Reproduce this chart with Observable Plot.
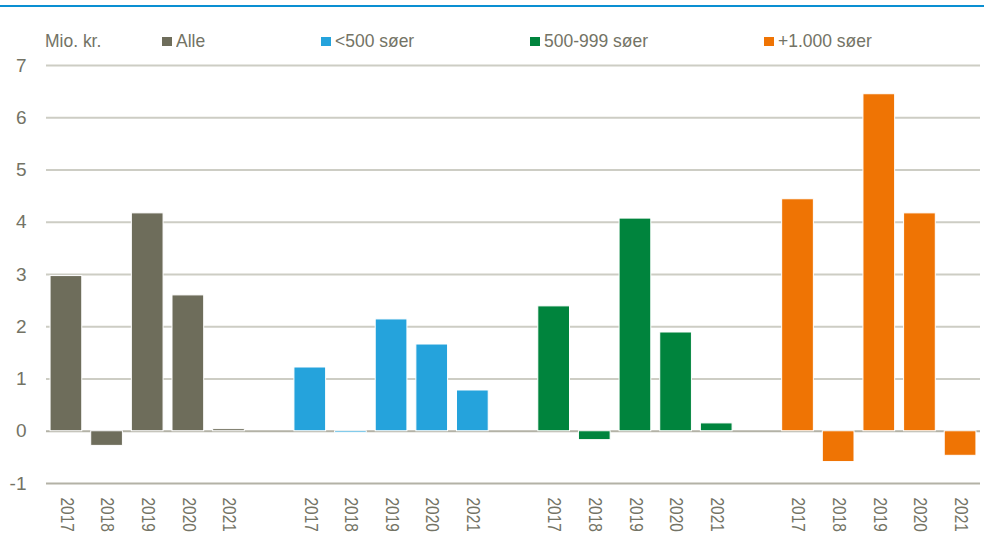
<!DOCTYPE html>
<html>
<head>
<meta charset="utf-8">
<script src="https://cdn.jsdelivr.net/npm/d3@7"></script>
<script src="https://cdn.jsdelivr.net/npm/@observablehq/plot@0.6"></script>
<style>
  html, body { margin: 0; padding: 0; background: #fff; }
  #wrap { position: relative; width: 984px; height: 540px; overflow: hidden; font-family: "Liberation Sans", Arial, sans-serif; color: #737365; }
  #topline { position: absolute; left: 0; top: 5px; width: 984px; height: 2px; background: #0a8fd2; }
  #legend { position: absolute; left: 0; top: 0; width: 984px; height: 60px; font-size: 19px; }
  .sw { position: absolute; top: 37px; width: 10px; height: 9px; }
  .lt { position: absolute; top: 29px; line-height: 24px; white-space: nowrap; transform: scaleX(0.92); transform-origin: left center; }
  #chart { position: absolute; left: 0; top: 50px; }
</style>
</head>
<body>
<div id="wrap">
  <div id="topline"></div>
  <div id="legend"></div>
  <div id="chart"></div>
</div>
<script>
// ---- data ----
const unitLabel = "Mio. kr.";
const groups = ["Alle", "<500 søer", "500-999 søer", "+1.000 søer"];
const years = ["2017", "2018", "2019", "2020", "2021"];
const alle = [2.97, -0.28, 4.17, 2.60, 0.04];
const under500 = [1.22, -0.03, 2.14, 1.66, 0.78];
const from500to999 = [2.39, -0.17, 4.07, 1.89, 0.15];
const over1000 = [4.44, -0.59, 6.45, 4.17, -0.47];
const colors = ["#6e6d5b", "#25a3dc", "#00843d", "#ef7404"];
const yTicks = [-1, 0, 1, 2, 3, 4, 5, 6, 7];
const gridTicks = [1, 2, 3, 4, 5, 6, 7];

// ---- build table ----
const seriesValues = [alle, under500, from500to999, over1000];
const rows = [];
const domain = [];
groups.forEach((g, gi) => {
  if (gi > 0) domain.push("gap" + gi);
  years.forEach((y, yi) => {
    const key = gi + "|" + y;
    domain.push(key);
    rows.push({ key, group: g, year: y, value: seriesValues[gi][yi] });
  });
});
const tickKeys = rows.map(d => d.key);

// ---- legend ----
const legend = document.getElementById("legend");
const swatchX = [162, 321, 530, 764];
const mk = document.createElement("div");
mk.className = "lt"; mk.style.left = "45px"; mk.textContent = unitLabel;
legend.appendChild(mk);
groups.forEach((g, i) => {
  const sw = document.createElement("div");
  sw.className = "sw"; sw.style.left = swatchX[i] + "px"; sw.style.background = colors[i];
  legend.appendChild(sw);
  const t = document.createElement("div");
  t.className = "lt"; t.style.left = (swatchX[i] + 14) + "px"; t.textContent = g;
  legend.appendChild(t);
});

// ---- chart ----
const font = "'Liberation Sans', Arial, sans-serif";
const chart = Plot.plot({
  width: 984,
  height: 490,
  marginTop: 15,
  marginBottom: 57,
  marginLeft: 46,
  marginRight: 4,
  style: { fontSize: "17px", fontFamily: font, color: "#737365", background: "transparent" },
  x: { domain, paddingInner: 0.22, paddingOuter: 0.1, round: false, axis: null, label: null },
  y: { domain: [-1, 7], axis: null, label: null },
  color: { domain: groups, range: colors },
  marks: [
    Plot.ruleY(gridTicks, { stroke: "#cdcdc4", strokeWidth: 2 }),
    Plot.ruleY([-1, 0], { stroke: "#b3b2a6", strokeWidth: 2 }),
    Plot.barY(rows, { x: "key", y: "value", fill: "group", stroke: "white", strokeWidth: 1 }),
    Plot.axisY(yTicks, { tickSize: 0, tickPadding: 20, fontSize: 19, tickFormat: d => String(d), fill: "#737365", label: null }),
    Plot.axisX(tickKeys, { tickSize: 0, tickPadding: 14, fontSize: 18, tickRotate: 90, tickFormat: k => k.split("|")[1], fill: "#737365", label: null })
  ]
});
document.getElementById("chart").appendChild(chart);
// slightly condensed year labels, as in the reference
chart.querySelectorAll('g[aria-label="x-axis tick label"] text').forEach(t => {
  const len = t.getComputedTextLength();
  t.setAttribute("textLength", (len * 0.86).toFixed(1));
  t.setAttribute("lengthAdjust", "spacingAndGlyphs");
});
</script>
</body>
</html>
